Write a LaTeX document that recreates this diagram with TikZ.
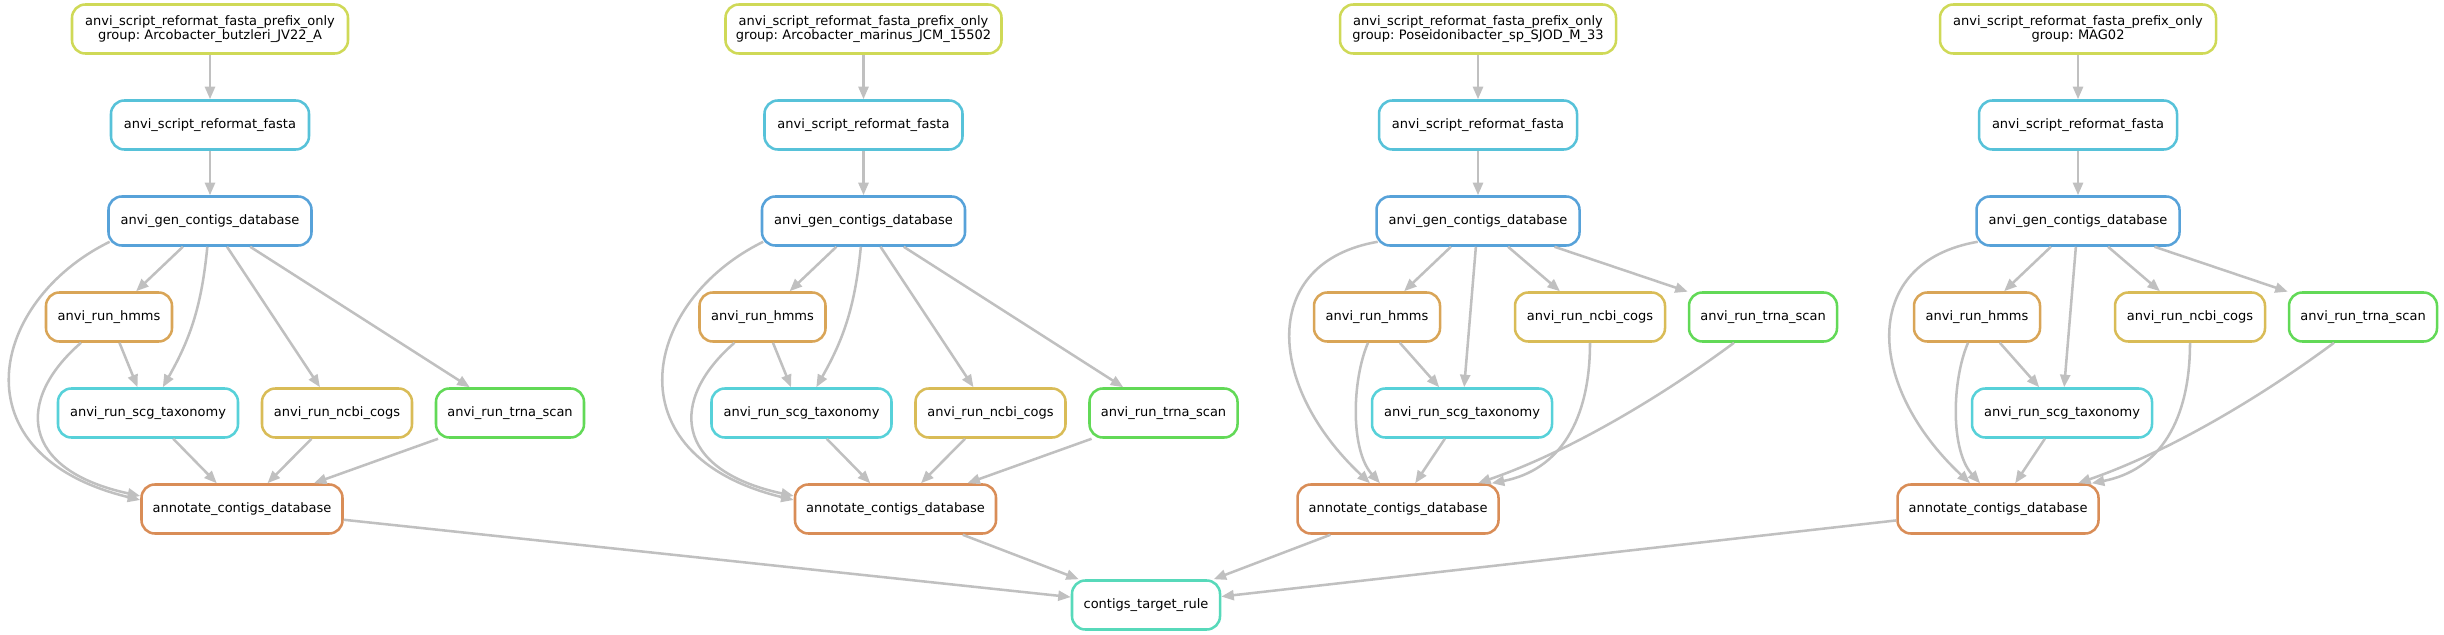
\documentclass[tikz,border=0pt]{standalone}
\usepackage{fontspec}
\setmainfont{DejaVu Sans}
\usetikzlibrary{arrows.meta,calc}
\definecolor{cTop}{RGB}{207,217,87}
\definecolor{cRef}{RGB}{87,194,217}
\definecolor{cGen}{RGB}{87,162,217}
\definecolor{cHmm}{RGB}{217,165,87}
\definecolor{cScg}{RGB}{87,209,217}
\definecolor{cNcbi}{RGB}{217,188,87}
\definecolor{cTrna}{RGB}{98,217,87}
\definecolor{cAnn}{RGB}{217,141,87}
\definecolor{cTgt}{RGB}{87,217,186}
\definecolor{cEdge}{RGB}{192,192,192}
\begin{document}
\begin{tikzpicture}[x=0.75pt,y=-0.75pt,
  box/.style={draw, line width=1.9pt, rounded corners=10pt, fill=white,
    minimum height=36.75pt, inner xsep=0pt, inner ysep=0pt,
    font=\fontsize{9.75pt}{11pt}\selectfont\frenchspacing, align=center},
  one/.style={box, text height=7.2pt, text depth=2.3pt},
  topbox/.style={box, draw=cTop, minimum width=207pt, text width=200pt},
  refbox/.style={one, draw=cRef, minimum width=148.5pt},
  genbox/.style={one, draw=cGen, minimum width=152.25pt},
  hmmbox/.style={one, draw=cHmm, minimum width=94.5pt},
  scgbox/.style={one, draw=cScg, minimum width=135pt},
  ncbibox/.style={one, draw=cNcbi, minimum width=112.5pt},
  trnabox/.style={one, draw=cTrna, minimum width=111pt},
  annbox/.style={one, draw=cAnn, minimum width=150.75pt},
  tgtbox/.style={one, draw=cTgt, minimum width=111pt},
  conn/.style={draw=cEdge, line width=1.9pt, -{Triangle[length=9.4pt,width=7.5pt]}}
]
\useasboundingbox (0,0) rectangle (2444,635);

% target
\node[tgtbox] (tgt) at (1146,605) {contigs\_target\_rule};

% groups of type A
\foreach \g/\X/\lab in {a/210/Arcobacter\_butzleri\_JV22\_A, b/863.5/Arcobacter\_marinus\_JCM\_15502}{
  \node[topbox] (top\g) at (\X,29) {anvi\_script\_reformat\_fasta\_prefix\_only\\group:~\lab};
  \node[refbox] (ref\g) at (\X,125) {anvi\_script\_reformat\_fasta};
  \node[genbox] (gen\g) at (\X,221) {anvi\_gen\_contigs\_database};
  \node[hmmbox] (hmm\g) at ({\X-101},317) {anvi\_run\_hmms};
  \node[scgbox] (scg\g) at ({\X-62},413) {anvi\_run\_scg\_taxonomy};
  \node[ncbibox] (ncbi\g) at ({\X+127},413) {anvi\_run\_ncbi\_cogs};
  \node[trnabox] (trna\g) at ({\X+300},413) {anvi\_run\_trna\_scan};
  \node[annbox] (ann\g) at ({\X+32},509) {annotate\_contigs\_database};
  \draw[conn] (top\g) -- (ref\g);
  \draw[conn] (ref\g) -- (gen\g);
  \draw[conn] (gen\g) -- (hmm\g);
  \draw[conn] (gen\g) to[bend left=12] (scg\g);
  \draw[conn] (gen\g) -- (ncbi\g);
  \draw[conn] (gen\g) -- (trna\g);
  \draw[conn] (hmm\g) -- (scg\g);
  \draw[conn] (scg\g) -- (ann\g);
  \draw[conn] (ncbi\g) -- (ann\g);
  \draw[conn] (trna\g) -- (ann\g);
  \draw[conn] ($(gen\g.south west)+(2.5,-5)$) .. controls ({\X-221},301) and ({\X-255},455) .. ($(ann\g.west)+(0,-9)$);
  \draw[conn] ($(hmm\g.south)+(-28,0)$) .. controls ({\X-195},400) and ({\X-190},470) .. ($(ann\g.west)+(0,-13)$);
  \draw[conn] (ann\g) -- (tgt);
}

% groups of type B
\foreach \g/\X/\lab in {c/1478/Poseidonibacter\_sp\_SJOD\_M\_33, d/2078/MAG02}{
  \node[topbox] (top\g) at (\X,29) {anvi\_script\_reformat\_fasta\_prefix\_only\\group:~\lab};
  \node[refbox] (ref\g) at (\X,125) {anvi\_script\_reformat\_fasta};
  \node[genbox] (gen\g) at (\X,221) {anvi\_gen\_contigs\_database};
  \node[hmmbox] (hmm\g) at ({\X-101},317) {anvi\_run\_hmms};
  \node[ncbibox] (ncbi\g) at ({\X+112},317) {anvi\_run\_ncbi\_cogs};
  \node[trnabox] (trna\g) at ({\X+285},317) {anvi\_run\_trna\_scan};
  \node[scgbox] (scg\g) at ({\X-16},413) {anvi\_run\_scg\_taxonomy};
  \node[annbox] (ann\g) at ({\X-80},509) {annotate\_contigs\_database};
  \draw[conn] (top\g) -- (ref\g);
  \draw[conn] (ref\g) -- (gen\g);
  \draw[conn] (gen\g) -- (hmm\g);
  \draw[conn] (gen\g) -- (scg\g);
  \draw[conn] (gen\g) -- (ncbi\g);
  \draw[conn] (gen\g) -- (trna\g);
  \draw[conn] (hmm\g) -- (scg\g);
  \draw[conn] (scg\g) -- (ann\g);
  \draw[conn] ($(gen\g.south west)+(2.5,-5)$) .. controls ({\X-218},262) and ({\X-213},385) .. ($(ann\g.north)+(-28,0)$);
  \draw[conn] ($(hmm\g.south)+(-9,0)$) .. controls ({\X-126},380) and ({\X-128},450) .. ($(ann\g.north)+(-18,0)$);
  \draw[conn] (ncbi\g.south) .. controls ({\X+112},420) and ({\X+82},470) .. ($(ann\g.north east)+(-8,0)$);
  \draw[conn] ($(trna\g.south)+(-29,0)$) .. controls ({\X+172},405) and ({\X+82},455) .. ($(ann\g.north)+(80,0)$);
  \draw[conn] (ann\g) -- (tgt);
}
\end{tikzpicture}
\end{document}
